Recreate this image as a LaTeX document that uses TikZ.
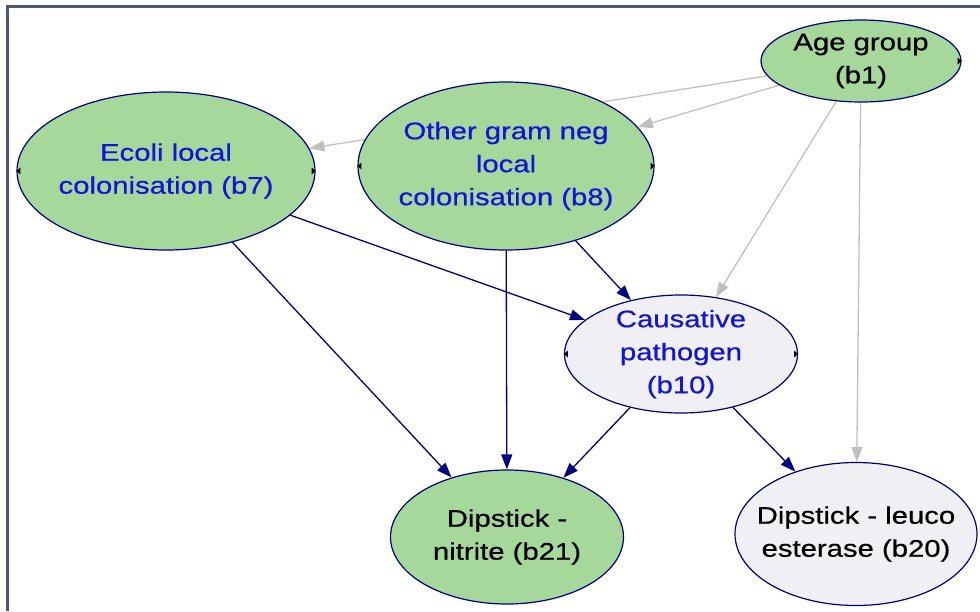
\documentclass[tikz,border=0pt]{standalone}
\usepackage{fontspec}
\setmainfont[FakeStretch=1.22,FakeBold=0.6]{Liberation Sans}
\usepackage{xcolor}
\usepackage{tikz}
\usetikzlibrary{shapes}
\usetikzlibrary{arrows.meta}
\usetikzlibrary{backgrounds}
\definecolor{nodegreen}{RGB}{166,216,156}
\definecolor{nodegrey}{RGB}{240,240,244}
\definecolor{edgenavy}{RGB}{0,0,128}
\definecolor{edgegrey}{RGB}{192,192,192}
\definecolor{textblue}{RGB}{20,20,215}
\definecolor{framegrey}{RGB}{74,88,115}
\tikzset{
	main node/.style={ellipse,draw=edgenavy,line width=1.2pt,inner xsep=-40pt,inner ysep=-20pt,
		align=center,font=\fontsize{24}{33}\selectfont},
	obs node/.style={main node,fill=nodegreen},
	hid node/.style={main node,fill=nodegrey},
	link/.style={draw=edgenavy,line width=1.3pt},
	agelink/.style={draw=edgegrey,line width=1.3pt}
}

\begin{document}
\begin{tikzpicture}[x=1pt,y=-1pt,->,>={Triangle[length=15pt,width=11pt]}]
	\useasboundingbox (0,0) rectangle (980,611);
	\draw[-,framegrey,line width=3pt] (7.5,611) -- (7.5,6) -- (980,6);
	% variables
	\node [obs node,minimum width=200,minimum height=82] (b1) at (861,61) {Age group\\(b1)};
	\node [obs node,minimum width=298,minimum height=158,text=textblue] (b7) at (166,171) {Ecoli local\\colonisation (b7)};
	\node [obs node,minimum width=296,minimum height=168,text=textblue] (b8) at (506,166) {Other gram neg\\local\\colonisation (b8)};
	\node [hid node,minimum width=233,minimum height=118,text=textblue] (b10) at (681,354) {Causative\\pathogen\\(b10)};
	\node [obs node,minimum width=233,minimum height=134] (b21) at (507,537) {Dipstick -\\nitrite (b21)};
	\node [hid node,minimum width=242,minimum height=143] (b20) at (856,534) {Dipstick - leuco\\esterase (b20)};
	% small side handles
	\foreach \n in {b7,b8,b10} {
		\fill[-,black] (\n.west) -- ++(4,3.5) -- ++(0,-7) -- cycle;
		\fill[-,black] (\n.east) -- ++(-4,3.5) -- ++(0,-7) -- cycle;
	}
	\fill[-,black] (b1.east) -- ++(-4,3.5) -- ++(0,-7) -- cycle;
	\begin{pgfonlayer}{background}
		% links from age group
		\draw [agelink] (b1) -- (b7);
		\draw [agelink] (b1) -- (b8);
		\draw [agelink] (b1) -- (b10);
		\draw [agelink] (b1) -- (b20);
		% other links
		\draw [link] (b7) -- (b10);
		\draw [link] (b7) -- (b21);
		\draw [link] (b8) -- (b10);
		\draw [link] (b8) -- (b21);
		\draw [link] (b10) -- (b21);
		\draw [link] (b10) -- (b20);
	\end{pgfonlayer}
\end{tikzpicture}
\end{document}
